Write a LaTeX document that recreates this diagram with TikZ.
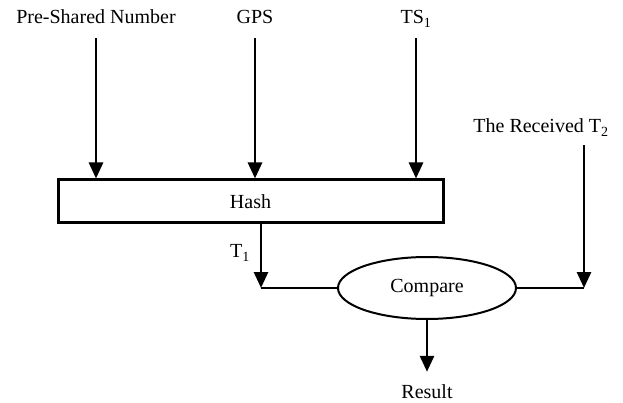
\documentclass[tikz,border=0pt]{standalone}
\usepackage{fontspec}
\setmainfont{Liberation Serif}
\usetikzlibrary{arrows.meta,shapes.geometric}
\begin{document}
\begin{tikzpicture}[x=1pt,y=-1pt,
  font=\fontsize{20}{24}\selectfont,
  lbl/.style={inner sep=0pt,text height=14pt,text depth=4pt,anchor=base},
  flow/.style={line width=2.8pt,-{Triangle[width=14pt,length=16pt]}},
  link/.style={line width=2pt},
  hashbox/.style={draw,line width=3pt,minimum width=385pt,minimum height=43pt,inner sep=0pt},
  cmpnode/.style={draw,ellipse,line width=2pt,minimum width=178pt,minimum height=62pt,inner sep=0pt}]
  \useasboundingbox (0,0) rectangle (623,403);

  % inputs
  \node[lbl] (psn) at (96,24) {Pre-Shared Number};
  \node[lbl] (gps) at (255,24) {GPS};
  \node[lbl] (ts) at (416,24) {TS\textsubscript{1}};
  \node[lbl] (rt) at (541,133) {The Received T\textsubscript{2}};

  % processing blocks
  \node[hashbox] (hash) at (250.5,201.5) {Hash};
  \node[cmpnode] (cmp) at (427,288) {Compare};
  \node[lbl] (res) at (427,398) {Result};
  \node[lbl] (t1) at (240,258) {T\textsubscript{1}};

  \coordinate (j1) at (261,288);
  \coordinate (j2) at (584,288);

  % inputs into the hash
  \draw[flow,shorten <=10pt] (psn.south) -- (psn.south |- hash.north);
  \draw[flow,shorten <=10pt] (gps.south) -- (gps.south |- hash.north);
  \draw[flow,shorten <=10pt] (ts.south) -- (ts.south |- hash.north);

  % hash output and received value into the comparison
  \draw[flow] (hash.south -| j1) -- (j1);
  \draw[link] (j1) -- (cmp.west);
  \draw[flow,shorten <=8pt] (rt.south -| j2) -- (j2);
  \draw[link] (cmp.east) -- (j2);

  % result
  \draw[flow,shorten >=12pt] (cmp.south) -- (res.north);
\end{tikzpicture}
\end{document}
